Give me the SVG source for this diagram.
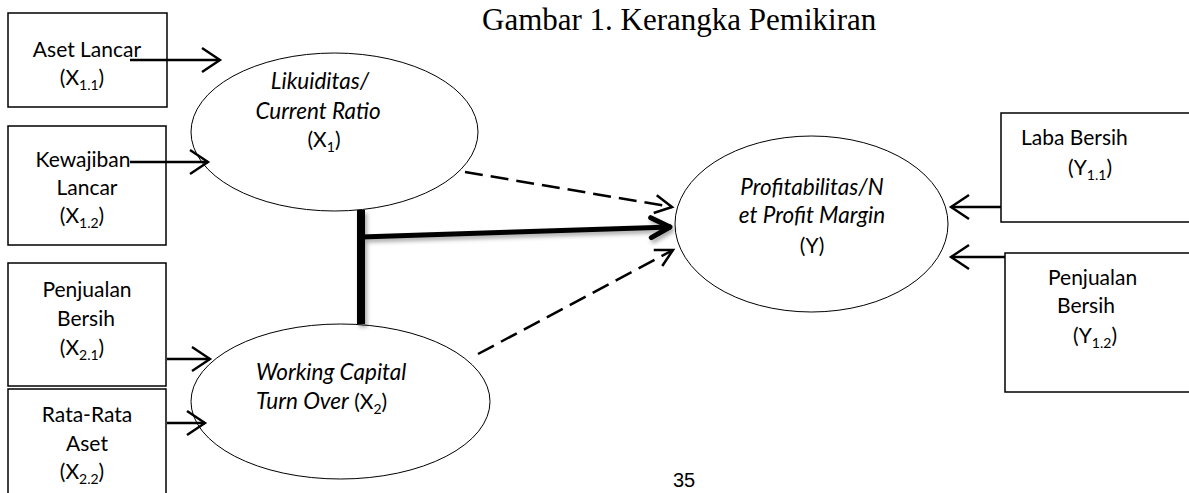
<svg xmlns="http://www.w3.org/2000/svg" width="1189" height="493" viewBox="0 0 1189 493">
<style>
.box{fill:#fff;stroke:#000;stroke-width:1.5}
.ell{fill:#fff;stroke:#000;stroke-width:1}
.t{font-family:Lato,"Open Sans",sans-serif;font-size:21px;fill:#000}
.tm{text-anchor:middle}
.i{font-style:italic;font-size:22.5px}
.sub{font-size:14px}
.thin{fill:none;stroke:#000;stroke-width:2.3}
.dash{fill:none;stroke:#000;stroke-width:2.5;stroke-dasharray:18 8}
.thick{fill:none;stroke:#000;stroke-width:5}
</style>
<defs>
<marker id="ah" markerUnits="userSpaceOnUse" viewBox="-20 -14 24 28" refX="0" refY="0" markerWidth="24" markerHeight="28" orient="auto">
<path d="M-18,-12 L0,0 L-18,12" fill="none" stroke="#000" stroke-width="2.4"/>
</marker>
<marker id="ahd" markerUnits="userSpaceOnUse" viewBox="-20 -14 24 28" refX="0" refY="0" markerWidth="24" markerHeight="28" orient="auto">
<path d="M-17,-9 L0,0 L-17,9" fill="none" stroke="#000" stroke-width="2.5"/>
</marker>
<marker id="aht" markerUnits="userSpaceOnUse" viewBox="-24 -14 28 28" refX="0" refY="0" markerWidth="28" markerHeight="28" orient="auto">
<path d="M-20,-10 L-1,0 L-20,10" fill="none" stroke="#000" stroke-width="5" stroke-linecap="round" stroke-linejoin="round"/>
</marker>
<filter id="sh" x="-10%" y="-50%" width="120%" height="200%">
<feDropShadow dx="2" dy="3" stdDeviation="2" flood-color="#000" flood-opacity="0.35"/>
</filter>
</defs>
<rect width="1189" height="493" fill="#fff"/>
<text x="482" y="30" style="font-family:'Liberation Serif',serif;font-size:31px">Gambar 1. Kerangka Pemikiran</text>

<g id="n-x11">
<rect class="box" x="8" y="13" width="159" height="94"/>
<text class="t tm" x="87" y="57">Aset Lancar</text>
<text class="t tm" x="82" y="85">(X<tspan class="sub" dy="5">1.1</tspan><tspan dy="-5">)</tspan></text>
</g>
<g id="n-x12">
<rect class="box" x="8" y="126" width="158" height="119"/>
<text class="t tm" x="83" y="167">Kewajiban</text>
<text class="t tm" x="87" y="195">Lancar</text>
<text class="t tm" x="82" y="223">(X<tspan class="sub" dy="5">1.2</tspan><tspan dy="-5">)</tspan></text>
</g>
<g id="n-x21">
<rect class="box" x="8" y="263" width="158" height="123"/>
<text class="t tm" x="87" y="297">Penjualan</text>
<text class="t tm" x="86" y="326">Bersih</text>
<text class="t tm" x="82" y="355">(X<tspan class="sub" dy="5">2.1</tspan><tspan dy="-5">)</tspan></text>
</g>
<g id="n-x22">
<rect class="box" x="8" y="389" width="158" height="115"/>
<text class="t tm" x="87" y="422">Rata-Rata</text>
<text class="t tm" x="87" y="451">Aset</text>
<text class="t tm" x="82" y="479">(X<tspan class="sub" dy="5">2.2</tspan><tspan dy="-5">)</tspan></text>
</g>
<g id="n-y11">
<rect class="box" x="1001" y="113" width="200" height="109"/>
<text class="t" x="1021" y="145">Laba Bersih</text>
<text class="t" x="1068" y="175">(Y<tspan class="sub" dy="5">1.1</tspan><tspan dy="-5">)</tspan></text>
</g>
<g id="n-y12">
<rect class="box" x="1005" y="253" width="200" height="139"/>
<text class="t" x="1048" y="285">Penjualan</text>
<text class="t" x="1057" y="313">Bersih</text>
<text class="t" x="1073" y="343">(Y<tspan class="sub" dy="5">1.2</tspan><tspan dy="-5">)</tspan></text>
</g>

<g id="n-x1">
<ellipse class="ell" cx="334.5" cy="132" rx="143.5" ry="79"/>
<text class="t tm i" x="320" y="89">Likuiditas/</text>
<text class="t tm i" x="318" y="119">Current Ratio</text>
<text class="t tm" x="324" y="147">(X<tspan class="sub" dy="5">1</tspan><tspan dy="-5">)</tspan></text>
</g>
<g id="n-x2">
<ellipse class="ell" cx="340.5" cy="401.5" rx="149.5" ry="77.5"/>
<text class="t i" x="256" y="380">Working Capital</text>
<text class="t" x="256" y="409"><tspan class="i">Turn Over</tspan> (X<tspan class="sub" dy="5">2</tspan><tspan dy="-5">)</tspan></text>
</g>
<g id="n-y">
<ellipse class="ell" cx="811.5" cy="224" rx="136.5" ry="88"/>
<text class="t tm i" x="812" y="195">Profitabilitas/N</text>
<text class="t tm i" x="812" y="223">et Profit Margin</text>
<text class="t tm" x="812" y="253">(Y)</text>
</g>

<g id="connectors">
<line class="thin" x1="130" y1="60" x2="220" y2="60" marker-end="url(#ah)"/>
<line class="thin" x1="130" y1="162" x2="208" y2="162" marker-end="url(#ah)"/>
<line class="thin" x1="167" y1="359" x2="210" y2="359" marker-end="url(#ah)"/>
<line class="thin" x1="167" y1="423" x2="205" y2="423" marker-end="url(#ah)"/>
<line class="thin" x1="1001" y1="207" x2="951" y2="207" marker-end="url(#ah)"/>
<line class="thin" x1="1005" y1="257" x2="951" y2="257" marker-end="url(#ah)"/>
<line class="dash" x1="465" y1="172" x2="672" y2="207" marker-end="url(#ahd)"/>
<line class="dash" x1="478" y1="354" x2="673" y2="250" marker-end="url(#ahd)"/>
<g filter="url(#sh)">
<line x1="361" y1="210" x2="361" y2="324" stroke="#000" stroke-width="8"/>
<line class="thick" x1="361" y1="237" x2="671" y2="227" marker-end="url(#aht)"/>
</g>
</g>
<text x="673" y="487" style="font-family:'Liberation Sans',Arial,sans-serif;font-size:20px">35</text>
</svg>
